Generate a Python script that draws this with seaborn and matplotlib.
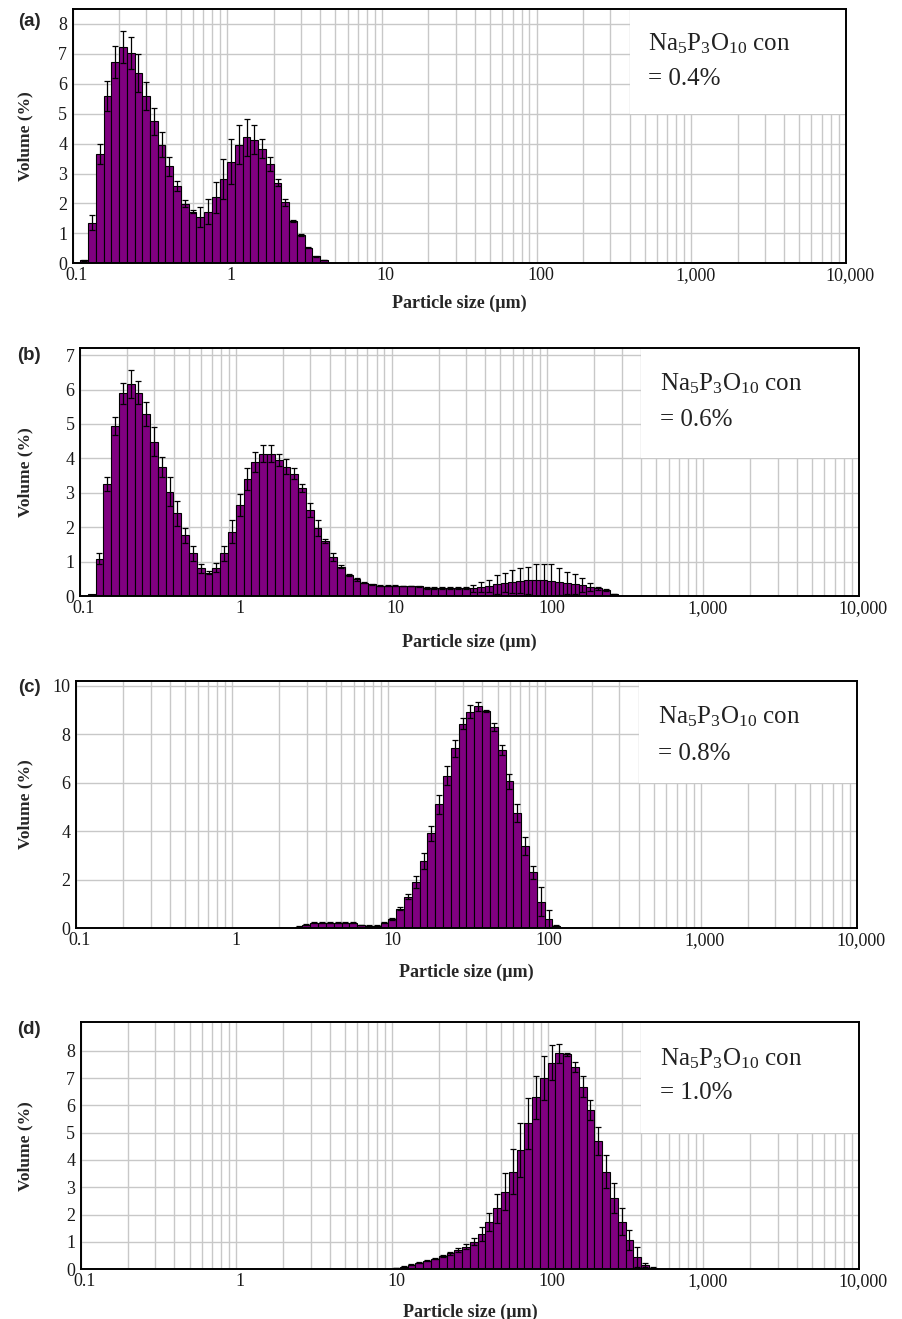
import numpy as np
import pandas as pd
import seaborn as sns
import matplotlib
matplotlib.use('Agg')
import matplotlib.pyplot as plt
from matplotlib.patches import Rectangle
from matplotlib.ticker import NullFormatter
from matplotlib.transforms import ScaledTranslation

# size classes: 20 per decade from 0.1 um, class k spans 10**(-1+k/20) .. 10**(-1+(k+1)/20)
class_edges = 10 ** (np.arange(0, 101) / 20 - 1)

# (a) Na5P3O10 0.4 %  (first class k=1)
start_a = 1
vol_a = [0.10, 1.36, 3.66, 5.58, 6.73, 7.22, 7.03, 6.36, 5.58, 4.74, 3.96, 3.24,
         2.59, 1.99, 1.72, 1.54, 1.73, 2.21, 2.81, 3.40, 3.96, 4.21, 4.13, 3.83,
         3.31, 2.70, 2.04, 1.42, 0.94, 0.52, 0.23, 0.11]
err_a = [0.02, 0.24, 0.34, 0.50, 0.52, 0.54, 0.53, 0.62, 0.47, 0.44, 0.42, 0.31,
         0.17, 0.11, 0.05, 0.34, 0.42, 0.52, 0.67, 0.75, 0.65, 0.61, 0.48, 0.32,
         0.24, 0.11, 0.11, 0.03, 0.03, 0.02, 0.01, 0.01]

# (b) 0.6 %
start_b = 1
vol_b = [0.05, 1.09, 3.25, 4.94, 5.89, 6.16, 5.91, 5.29, 4.48, 3.76, 3.03, 2.40,
         1.77, 1.24, 0.80, 0.68, 0.82, 1.24, 1.87, 2.64, 3.39, 3.90, 4.14, 4.14,
         3.95, 3.76, 3.56, 3.13, 2.50, 1.97, 1.61, 1.14, 0.85, 0.61, 0.48, 0.39,
         0.34, 0.30, 0.30, 0.30, 0.29, 0.29, 0.28, 0.24, 0.23, 0.23, 0.23, 0.23,
         0.23, 0.22, 0.27, 0.29, 0.34, 0.39, 0.42, 0.44, 0.46, 0.46, 0.46, 0.45,
         0.42, 0.39, 0.35, 0.32, 0.27, 0.22, 0.17, 0.06]
err_b = [0.00, 0.15, 0.20, 0.27, 0.31, 0.40, 0.34, 0.34, 0.42, 0.29, 0.42, 0.36,
         0.22, 0.21, 0.13, 0.05, 0.13, 0.21, 0.33, 0.32, 0.32, 0.29, 0.25, 0.25,
         0.17, 0.21, 0.15, 0.12, 0.21, 0.24, 0.06, 0.12, 0.05, 0.03, 0.03, 0.02,
         0.02, 0.01, 0.01, 0.01, 0.01, 0.01, 0.01, 0.03, 0.03, 0.03, 0.03, 0.03,
         0.03, 0.10, 0.15, 0.17, 0.27, 0.27, 0.34, 0.36, 0.39, 0.46, 0.46, 0.47,
         0.38, 0.32, 0.29, 0.19, 0.12, 0.05, 0.03, 0.01]

# (c) 0.8 %
start_c = 28
vol_c = [0.07, 0.14, 0.22, 0.22, 0.22, 0.22, 0.22, 0.22, 0.14, 0.11, 0.11, 0.23,
         0.38, 0.81, 1.31, 1.92, 2.79, 3.92, 5.11, 6.28, 7.42, 8.43, 8.93, 9.14,
         8.96, 8.29, 7.35, 6.05, 4.74, 3.40, 2.30, 1.10, 0.38, 0.11]
err_c = [0.01, 0.02, 0.02, 0.02, 0.02, 0.02, 0.02, 0.02, 0.01, 0.01, 0.01, 0.02,
         0.03, 0.05, 0.10, 0.24, 0.33, 0.31, 0.39, 0.39, 0.35, 0.23, 0.28, 0.19,
         0.05, 0.16, 0.21, 0.30, 0.37, 0.38, 0.28, 0.59, 0.38, 0.02]

# (d) 1.0 %
start_d = 40
vol_d = [0.04, 0.10, 0.16, 0.24, 0.32, 0.39, 0.49, 0.59, 0.71, 0.83, 1.01, 1.29,
         1.74, 2.23, 2.84, 3.57, 4.37, 5.34, 6.29, 6.99, 7.56, 7.90, 7.87, 7.41,
         6.68, 5.83, 4.71, 3.57, 2.60, 1.74, 1.07, 0.46, 0.16, 0.06]
err_d = [0.01, 0.02, 0.02, 0.02, 0.03, 0.03, 0.05, 0.05, 0.06, 0.10, 0.12, 0.25,
         0.33, 0.53, 0.67, 0.82, 1.00, 0.94, 0.78, 0.81, 0.65, 0.34, 0.05, 0.19,
         0.39, 0.37, 0.51, 0.61, 0.55, 0.49, 0.37, 0.37, 0.08, 0.02]

labels = ['(a)', '(b)', '(c)', '(d)']
concs = ['0.4%', '0.6%', '0.8%', '1.0%']
xtick_vals = [0.1, 1, 10, 100, 1000, 10000]
xtick_labels = ['0.1', '1', '10', '100', '1,000', '10,000']

sns.set_theme(style='white')
plt.rcParams['font.family'] = ['Liberation Serif', 'DejaVu Serif']
plt.rcParams['mathtext.fontset'] = 'custom'
plt.rcParams['mathtext.rm'] = 'Liberation Serif'
plt.rcParams['mathtext.it'] = 'Liberation Serif:italic'
plt.rcParams['mathtext.bf'] = 'Liberation Serif:bold'

W, H = 903, 1319
fig = plt.figure(figsize=(W / 100, H / 100), dpi=100)
shift = ScaledTranslation(4 / 100, 0, fig.dpi_scale_trans)

# pixel layout: axes box, y top, white box bottom, text baselines, label rows
layout = [
    dict(box=(72.7, 9, 845.7, 263.3), ytop=8.5, yticks=range(0, 9), wbox=5,
         txt=(7.13, 5.96), lab_y=22, xlab_y=303),
    dict(box=(80, 348.3, 859, 596), ytop=7.2, yticks=range(0, 8), wbox=4,
         txt=(5.97, 4.94), lab_y=355, xlab_y=642),
    dict(box=(76, 680.7, 857, 928.3), ytop=10.2, yticks=range(0, 11, 2), wbox=6,
         txt=(8.45, 6.94), lab_y=688, xlab_y=972),
    dict(box=(80.7, 1022, 859, 1269.3), ytop=9.05, yticks=range(0, 9), wbox=5,
         txt=(7.48, 6.22), lab_y=1029, xlab_y=1312),
]

samples = [(start_a, vol_a, err_a), (start_b, vol_b, err_b),
           (start_c, vol_c, err_c), (start_d, vol_d, err_d)]

for i, ((start, vol, err), lay) in enumerate(zip(samples, layout)):
    l, t, r, b = lay['box']
    ax = fig.add_axes([l / W, 1 - b / H, (r - l) / W, (b - t) / H])

    n = len(vol)
    lo = class_edges[start:start + n]
    hi = class_edges[start + 1:start + n + 1]
    size = np.sqrt(lo * hi)
    df = pd.DataFrame({'size': size, 'vol': vol, 'err': err})

    sns.barplot(data=df, x='size', y='vol', native_scale=True,
                log_scale=(True, False), width=1, color='#800080',
                saturation=1, edgecolor='black', linewidth=0.8,
                errorbar=None, ax=ax, zorder=2)
    e = df[df['err'] > 0]
    ax.errorbar(e['size'], e['vol'], yerr=e['err'], fmt='none', ecolor='black',
                elinewidth=0.9, capsize=2.3, capthick=0.9, zorder=3)

    ax.set_xscale('log')
    ax.set_xlim(0.1, 10000)
    ax.set_ylim(0, lay['ytop'])
    ax.set_xticks(xtick_vals)
    ax.set_xticklabels(xtick_labels)
    ax.xaxis.set_minor_formatter(NullFormatter())
    ax.set_yticks(list(lay['yticks']))
    ax.set_yticklabels([str(v) for v in lay['yticks']])
    ax.tick_params(which='both', length=0, labelsize=13, colors='#1a1a1a')
    ax.tick_params(axis='x', pad=3)
    ax.tick_params(axis='y', pad=4)
    for lab in ax.get_xticklabels():
        lab.set_transform(lab.get_transform() + shift)

    ax.set_axisbelow(True)
    ax.grid(True, which='both', axis='x', color='#c8c8c8', linewidth=1.0)
    ax.grid(True, which='major', axis='y', color='#c8c8c8', linewidth=1.0)
    for sp in ax.spines.values():
        sp.set_color('black')
        sp.set_linewidth(1.4)
        sp.set_zorder(5)

    ax.add_patch(Rectangle((400, lay['wbox']), 10000 - 400, lay['ytop'] - lay['wbox'],
                           facecolor='white', edgecolor='none', zorder=1))
    ax.text(530, lay['txt'][0], r'Na$_5$P$_3$O$_{10}$ con', fontsize=18,
            color='#222222', va='baseline', ha='left', zorder=6)
    ax.text(530, lay['txt'][1], '= ' + concs[i], fontsize=18,
            color='#222222', va='baseline', ha='left', zorder=6)

    ax.set_xlabel('Particle size (µm)', fontsize=13, fontweight='bold')
    ax.xaxis.set_label_coords(0.5, -(lay['xlab_y'] - b) / (b - t))
    ax.xaxis.label.set_va('center')
    ax.set_ylabel('Volume (%)', fontsize=12.5, fontweight='bold')
    ax.yaxis.set_label_coords(-(l - 25) / (r - l), 0.5)
    ax.yaxis.label.set_va('center')

    fig.text(29 / W, 1 - lay['lab_y'] / H, labels[i], fontsize=13.5,
             fontweight='bold', family='Liberation Sans', ha='center', va='center')

fig.savefig('out.png', dpi=100)
